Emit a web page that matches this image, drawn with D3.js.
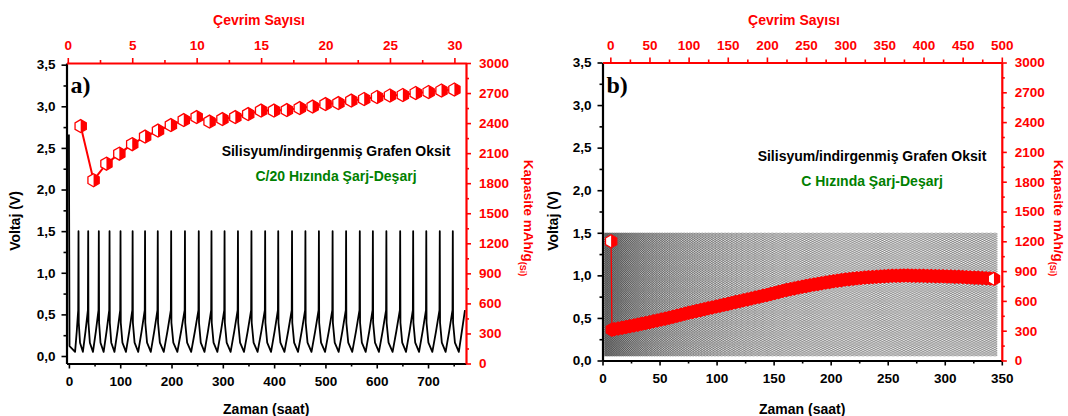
<!DOCTYPE html>
<html lang="tr">
<head>
<meta charset="utf-8">
<script src="https://cdn.jsdelivr.net/npm/d3@7/dist/d3.min.js"></script>
<style>
  html, body { margin: 0; padding: 0; background: #fff; }
  svg { display: block; }
  text { font-family: "Liberation Sans", Arial, Helvetica, sans-serif; font-weight: bold; }
</style>
</head>
<body>
<svg id="chart" width="1068" height="416"></svg>
<script>
// ---------- Panel a: C/20 rate, 30 cycles ----------
const cyclesA = [1, 2, 3, 4, 5, 6, 7, 8, 9, 10, 11, 12, 13, 14, 15, 16, 17, 18, 19, 20,
                 21, 22, 23, 24, 25, 26, 27, 28, 29, 30];
const capacityA = [2370, 1830, 1995, 2095, 2190, 2265, 2325, 2380, 2430, 2460,
                   2415, 2440, 2460, 2490, 2525, 2525, 2530, 2550, 2565, 2590,
                   2600, 2625, 2640, 2660, 2675, 2680, 2700, 2710, 2725, 2735];
// first lithiation from open-circuit voltage (hours, volts)
const initialDischargeA = [[0, 2.66], [1.2, 0.12], [6, 0.09], [12, 0.05]];
// end of each charge (voltage reaches the 1.5 V cut-off), hours
const chargeEndHoursA = [18.7, 37.6, 58.3, 79.2, 100.6, 124.2, 148.4, 173.2, 199.3, 226.2,
                         253.1, 277.9, 303.4, 329.5, 355.8, 382.5, 408.0, 434.9, 461.0, 487.3,
                         514.0, 540.3, 567.0, 592.5, 618.8, 645.7, 671.0, 696.6, 722.9, 748.3];
// end of each following discharge (lowest voltage), hours
const dischargeEndHoursA = [27.2, 46.9, 67.7, 88.8, 111.2, 135.1, 159.6, 184.9, 211.4, 238.3,
                            264.3, 289.4, 315.2, 341.3, 367.8, 394.0, 420.1, 446.6, 472.8, 499.3,
                            525.8, 552.3, 578.5, 604.3, 630.9, 657.1, 682.5, 708.4, 734.3, 760.0];
const lastPointA = [772, 0.55];

// ---------- Panel b: C rate, ~490 cycles ----------
const cyclesB = [1, 2, 5, 10, 15, 20, 25, 30, 35, 40, 45, 50, 55, 60, 65, 70, 75, 80, 85, 90,
                 95, 100, 105, 110, 115, 120, 125, 130, 135, 140, 145, 150, 155, 160, 165, 170,
                 175, 180, 185, 190, 195, 200, 205, 210, 215, 220, 225, 230, 235, 240, 245, 250,
                 255, 260, 265, 270, 275, 280, 285, 290, 295, 300, 305, 310, 315, 320, 325, 330,
                 335, 340, 345, 350, 355, 360, 365, 370, 375, 380, 385, 390, 395, 400, 405, 410,
                 415, 420, 425, 430, 435, 440, 445, 450, 455, 460, 465, 470, 475, 480, 485, 490];
const capacityB = [1200, 310, 315, 322, 330, 337, 345, 353, 361, 369, 377, 385, 394, 403, 412, 421, 430, 440, 450, 460,
                   470, 480, 489, 498, 507, 516, 525, 534, 543, 552, 561, 570, 579, 588, 597, 606,
                   615, 624, 633, 642, 651, 660, 670, 680, 690, 700, 710, 718, 726, 734, 742, 750,
                   757, 764, 771, 778, 785, 791, 797, 803, 809, 815, 819, 823, 827, 831, 835, 838,
                   840, 843, 845, 848, 850, 852, 853, 854, 855, 855, 854, 853, 853, 852, 851, 850,
                   849, 848, 848, 846, 845, 843, 842, 840, 838, 836, 834, 832, 830, 827, 825, 822];
const restPointB = [0.5, 2.07];   // open-circuit voltage before cycling
const lastHourB = 346;            // end of the recorded voltage trace

// ---------- Tick values ----------
const voltTicks = [0, 0.5, 1, 1.5, 2, 2.5, 3, 3.5];
const voltMinor = [0.25, 0.75, 1.25, 1.75, 2.25, 2.75, 3.25];
const capTicks = [0, 300, 600, 900, 1200, 1500, 1800, 2100, 2400, 2700, 3000];
const capMinor = [150, 450, 750, 1050, 1350, 1650, 1950, 2250, 2550, 2850];
const timeTicksA = [0, 100, 200, 300, 400, 500, 600, 700];
const timeMinorA = [50, 150, 250, 350, 450, 550, 650, 750];
const cycleTicksA = [0, 5, 10, 15, 20, 25, 30];
const cycleMinorA = [2.5, 7.5, 12.5, 17.5, 22.5, 27.5];
const timeTicksB = [0, 50, 100, 150, 200, 250, 300, 350];
const timeMinorB = [25, 75, 125, 175, 225, 275, 325];
const cycleTicksB = [0, 50, 100, 150, 200, 250, 300, 350, 400, 450, 500];
const cycleMinorB = [25, 75, 125, 175, 225, 275, 325, 375, 425, 475];

const RED = "#ff0000";
const GREEN = "#008000";
const commaFmt = d => d3.format(".1f")(d).replace(".", ",");

const svg = d3.select("#chart");

// hexagon marker (pointy top), outline and right half
function hexPoints(R) {
  return d3.range(6).map(i => {
    const a = (-90 + 60 * i) * Math.PI / 180;
    return [R * Math.cos(a), R * Math.sin(a)];
  });
}
function rightHalf(R) {
  const c = R * Math.cos(Math.PI / 6);
  return [[0, -R], [c, -R / 2], [c, R / 2], [0, R]];
}
const line = d3.line();

function drawAxis(g, axisFn, scale, major, minor, color, fmt, pad) {
  const gm = g.append("g").call(axisFn(scale).tickValues(minor).tickSize(3).tickFormat(""));
  gm.select(".domain").remove();
  gm.selectAll(".tick line").attr("stroke", color).attr("stroke-width", 1.6);
  const gM = g.append("g").call(axisFn(scale).tickValues(major).tickSize(5)
      .tickSizeOuter(0).tickPadding(pad).tickFormat(fmt));
  gM.attr("font-size", null).attr("font-family", null);
  gM.select(".domain").attr("stroke", color).attr("stroke-width", 2.2);
  gM.selectAll(".tick line").attr("stroke", color).attr("stroke-width", 1.6);
  gM.selectAll(".tick text").attr("fill", color).style("font-size", "13.5px");
  return g;
}

function drawPanel(cfg) {
  const { left, right, top, bottom } = cfg.frame;
  const x = d3.scaleLinear().domain(cfg.timeDomain).range([left, right]);
  const xc = d3.scaleLinear().domain(cfg.cycleDomain).range([left, right]);
  const yv = d3.scaleLinear().domain(cfg.voltDomain).range([bottom, top]);
  const yc = d3.scaleLinear().domain([0, 3000]).range([bottom, top]);
  const g = svg.append("g");

  // voltage trace
  g.append("path")
    .attr("d", line(cfg.voltage.map(p => [x(p[0]), yv(p[1])])))
    .attr("fill", "none")
    .attr("stroke", "#000")
    .attr("stroke-width", cfg.voltWidth)
    .attr("stroke-opacity", cfg.voltOpacity)
    .attr("stroke-dasharray", cfg.voltDash)
    .attr("stroke-linejoin", "round");

  // capacity line and markers
  const pts = cfg.cycles.map((c, i) => [xc(c), yc(cfg.capacity[i])]);
  g.append("path").attr("d", line(pts)).attr("fill", "none")
    .attr("stroke", RED).attr("stroke-width", cfg.capWidth);
  const R = 6.5;
  const last = pts.length - 1;
  const order = cfg.markerOrder(pts.map((p, i) => i));
  const mk = g.append("g").selectAll("g").data(order).join("g")
    .attr("transform", i => `translate(${pts[i][0]},${pts[i][1]})`);
  // in a dense run the overlapping markers merge into one red band
  mk.append("path").attr("d", line(hexPoints(R)) + "Z")
    .attr("fill", i => cfg.denseMarkers && i > 0 && i !== last ? RED : "#fff");
  mk.append("path").attr("d", line(rightHalf(R)) + "Z").attr("fill", RED);
  mk.append("path").attr("d", line(hexPoints(R)) + "Z").attr("fill", "none")
    .attr("stroke", RED).attr("stroke-width", 1.3);

  // axes
  drawAxis(g.append("g").attr("transform", `translate(${left},0)`), d3.axisLeft, yv,
    voltTicks, voltMinor, "#000", commaFmt, 6);
  drawAxis(g.append("g").attr("transform", `translate(0,${bottom})`), d3.axisBottom, x,
    cfg.timeTicks, cfg.timeMinor, "#000", d3.format("d"), 8);
  drawAxis(g.append("g").attr("transform", `translate(0,${top})`), d3.axisTop, xc,
    cfg.cycleTicks, cfg.cycleMinor, RED, d3.format("d"), 8);
  drawAxis(g.append("g").attr("transform", `translate(${right},0)`), d3.axisRight, yc,
    capTicks, capMinor, RED, d3.format("d"), 8);

  // titles
  g.append("text").attr("x", cfg.topTitleX).attr("y", 25).attr("text-anchor", "middle")
    .attr("fill", RED).style("font-size", "14px").text("Çevrim Sayısı");
  g.append("text").attr("x", (left + right) / 2).attr("y", 414).attr("text-anchor", "middle")
    .attr("fill", "#000").style("font-size", "14px").text("Zaman (saat)");
  g.append("text").attr("transform", `translate(${cfg.voltTitleX},221) rotate(-90)`)
    .attr("text-anchor", "middle").attr("fill", "#000").style("font-size", "14px")
    .text("Voltaj (V)");
  const ct = g.append("text").attr("transform", `translate(${cfg.capTitleX},218) rotate(90)`)
    .attr("text-anchor", "middle").attr("fill", RED).style("font-size", "13.5px");
  ct.append("tspan").text("Kapasite mAh/g");
  ct.append("tspan").attr("dy", 4).style("font-size", "9px").text("(Si)");

  // panel label and notes
  g.append("text").attr("x", left + 4).attr("y", 93)
    .style("font-family", '"Liberation Serif", "Times New Roman", serif')
    .style("font-size", "24px").attr("fill", "#000").text(cfg.tag);
  g.append("text").attr("x", cfg.noteX).attr("y", cfg.noteY).attr("text-anchor", "middle")
    .attr("fill", "#000").style("font-size", "14px").text("Silisyum/indirgenmiş Grafen Oksit");
  g.append("text").attr("x", cfg.noteX).attr("y", cfg.noteY + 25).attr("text-anchor", "middle")
    .attr("fill", GREEN).style("font-size", "14px").text(cfg.rateText);
}

// voltage trace of panel a: initial lithiation, then charge / discharge of each cycle
const voltageA = initialDischargeA.slice();
chargeEndHoursA.forEach((tc, k) => {
  const tv = k === 0 ? initialDischargeA[initialDischargeA.length - 1][0] : dischargeEndHoursA[k - 1];
  voltageA.push([tv + 0.5 * (tc - tv), 0.3], [tc - 0.6, 0.55], [tc, 1.5]);
  const tn = dischargeEndHoursA[k];
  voltageA.push([tc + 0.5, 0.4], [tc + 0.35 * (tn - tc), 0.16], [tn, 0.05]);
});
voltageA.push(lastPointA);

// voltage trace of panel b: cycle length follows the delivered capacity
const voltageB = [restPointB];
const cycleCounts = cyclesB.map((c, i) => i < cyclesB.length - 1 ? cyclesB[i + 1] - c : 1);
const capTotal = d3.sum(capacityB, (c, i) => c * cycleCounts[i]);
const hoursPerMah = (lastHourB - restPointB[0]) / capTotal;
let t = restPointB[0];
capacityB.forEach((c, i) => {
  const dur = c * hoursPerMah;
  for (let j = 0; j < cycleCounts[i]; j++) {
    voltageB.push([t + 0.04 * dur, 0.32], [t + 0.5 * dur, 0.05], [t + 0.95 * dur, 0.5], [t + dur, 1.5]);
    t += dur;
  }
});

drawPanel({
  frame: { left: 66.5, right: 466, top: 63, bottom: 363.5 },
  timeDomain: [-4.7, 774], cycleDomain: [-0.1, 30.9], voltDomain: [-0.09, 3.52],
  voltage: voltageA, voltWidth: 1.8, voltOpacity: 1, voltDash: null, capWidth: 2,
  cycles: cyclesA, capacity: capacityA, markerOrder: o => o, denseMarkers: false,
  timeTicks: timeTicksA, timeMinor: timeMinorA, cycleTicks: cycleTicksA, cycleMinor: cycleMinorA,
  topTitleX: 259, voltTitleX: 20, capTitleX: 524, tag: "a)",
  noteX: 336, noteY: 155.5, rateText: "C/20 Hızında Şarj-Deşarj"
});
drawPanel({
  frame: { left: 602.5, right: 1001.8, top: 62.5, bottom: 360.5 },
  timeDomain: [0, 350], cycleDomain: [-10, 500], voltDomain: [0, 3.5],
  voltage: voltageB, voltWidth: 0.5, voltOpacity: 0.6, voltDash: "1.2 1", capWidth: 1.3,
  cycles: cyclesB, capacity: capacityB, denseMarkers: true,
  markerOrder: o => o.slice(0, -1).reverse().concat(o.slice(-1)),
  timeTicks: timeTicksB, timeMinor: timeMinorB, cycleTicks: cycleTicksB, cycleMinor: cycleMinorB,
  topTitleX: 794, voltTitleX: 558, capTitleX: 1054, tag: "b)",
  noteX: 872, noteY: 161, rateText: "C Hızında Şarj-Deşarj"
});
</script>
</body>
</html>
